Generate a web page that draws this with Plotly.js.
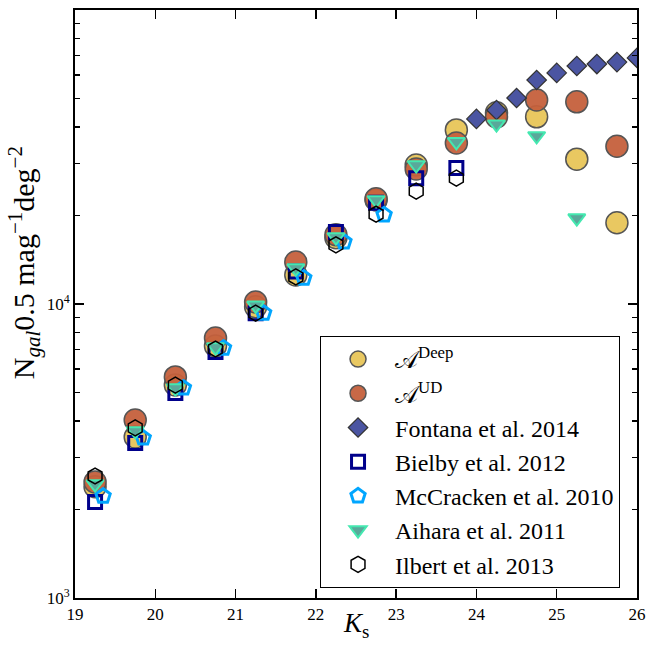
<!DOCTYPE html>
<html><head><meta charset="utf-8">
<script src="https://cdn.plot.ly/plotly-3.0.1.min.js"></script>
<style>html,body{margin:0;padding:0;background:#fff}</style>
</head><body><div id="chart" style="width:647px;height:648px"></div>
<script>
const magHalf = [19.25,19.75,20.25,20.75,21.25,21.75,22.25,22.75,23.25,23.75,24.25,24.75,25.25,25.75];
const deepCounts = [2390,3530,5300,7200,9780,12560,16800,22600,29700,39100,44700,43300,31100,18900];
const udCounts = [2480,4030,5650,7660,10160,13900,17200,22800,28800,35300,43300,49400,48700,34400];
const fontanaMag = [24.0,24.25,24.5,24.75,25.0,25.25,25.5,25.75,26.0];
const fontanaCounts = [42600,45700,50200,57800,61100,64500,65500,66500,68700];
const bielbyMag = [19.25,19.75,20.25,20.75,21.25,21.75,22.25,22.75,23.25,23.75];
const bielbyCounts = [2120,3370,4980,6870,9300,12900,17580,22100,26800,29000];
const mccrackenMag = [19.35,19.85,20.35,20.85,21.35,21.85,22.35,22.85];
const mccrackenCounts = [2220,3500,5180,7080,9310,12250,16260,20100];
const aiharaMag = [19.25,19.75,20.25,20.75,21.25,21.75,22.25,22.75,23.25,23.75,24.25,24.75,25.25];
const aiharaCounts = [2440,3700,5180,7140,9900,13250,16900,22600,29700,35600,40900,37300,19600];
const ilbertMag = [19.25,19.75,20.25,20.75,21.25,21.75,22.25,22.75,23.25,23.75];
const ilbertCounts = [2600,3790,5300,7030,9310,12360,15900,20200,24200,26800];
const xTicks = [19,20,21,22,23,24,25,26];
const yTicks = [1000,10000,100000];
const yTickText = ['10<sup>3</sup>','10<sup>4</sup>','10<sup>5</sup>'];
const names = ['𝒜<sup>Deep</sup>','𝒜<sup>UD</sup>','Fontana et al. 2014','Bielby et al. 2012','McCracken et al. 2010','Aihara et al. 2011','Ilbert et al. 2013'];

const minorVals = [];
[1000,10000].forEach(d=>{for(let k=2;k<=9;k++) minorVals.push(d*k);});

function tr(x,y,name,marker,g){
  return {x:x,y:y,name:name,type:'scatter',mode:'markers',marker:marker,legendgroup:g};
}
const data = [
  tr(magHalf,deepCounts,names[0],{symbol:'circle',size:22,color:'rgba(232,197,88,0.95)',line:{color:'#555555',width:1.5}},'a'),
  tr(magHalf,udCounts,names[1],{symbol:'circle',size:22,color:'rgba(197,96,60,0.95)',line:{color:'#555555',width:1.5}},'b'),
  tr(fontanaMag,fontanaCounts,names[2],{symbol:'diamond',size:15,color:'#4b55a2',line:{color:'#333333',width:1.2}},'c'),
  tr(bielbyMag,bielbyCounts,names[3],{symbol:'square-open',size:13,color:'#00008b',line:{color:'#00008b',width:3}},'d'),
  tr(mccrackenMag,mccrackenCounts,names[4],{symbol:'pentagon-open',size:15,color:'#00a6ff',line:{color:'#00a6ff',width:3}},'e'),
  tr(aiharaMag,aiharaCounts,names[5],{symbol:'triangle-down',size:15,color:'#5aa89a',line:{color:'#44e8b0',width:2}},'f'),
  tr(ilbertMag,ilbertCounts,names[6],{symbol:'hexagon-open',size:16,color:'#000000',line:{color:'#000000',width:1.5}},'g'),
  {x:[19],y:[1000],yaxis:'y2',type:'scatter',mode:'markers',marker:{opacity:0,size:1},showlegend:false,hoverinfo:'skip'}
];
const serif = '"Liberation Serif", "DejaVu Serif", serif';
const layout = {
  width:647,height:648,
  margin:{l:75,r:10,t:10,b:50},
  paper_bgcolor:'#fff',plot_bgcolor:'#fff',
  font:{family:serif,color:'#000'},
  showlegend:true,
  xaxis:{range:[19,26],tickvals:xTicks,ticktext:xTicks.map(String),ticks:'inside',ticklen:9,tickwidth:1.5,tickcolor:'#000',
    showline:true,linewidth:2,linecolor:'#000',mirror:'ticks',showgrid:false,zeroline:false,
    tickfont:{size:17,family:serif}},
  yaxis:{type:'log',range:[3,5],tickmode:'array',tickvals:yTicks,ticktext:yTickText,ticks:'inside',ticklen:9,tickwidth:1.5,tickcolor:'#000',
    showline:true,linewidth:2,linecolor:'#000',mirror:'ticks',showgrid:false,zeroline:false,
    tickfont:{size:17,family:serif}},
  yaxis2:{type:'log',range:[3,5],overlaying:'y',anchor:'x',side:'left',tickmode:'array',tickvals:minorVals,showticklabels:false,
    ticks:'inside',ticklen:5,tickwidth:1.5,tickcolor:'#000',showline:false,mirror:'ticks',showgrid:false,zeroline:false},
  legend:{x:0.436,y:0.017,xanchor:'left',yanchor:'bottom',bgcolor:'#fff',bordercolor:'#000',borderwidth:1,
    font:{size:24,family:serif},tracegroupgap:0,itemwidth:64},
  annotations:[
    {text:'N<sub><i>gal</i></sub>0.5 mag<sup>−1</sup>deg<sup>−2</sup>',textangle:-90,xref:'paper',yref:'paper',
      x:-0.09,y:0.57,xanchor:'center',yanchor:'middle',showarrow:false,font:{size:30,family:serif}},
    {text:'<i>K</i><sub>s</sub>',xref:'paper',yref:'paper',x:0.5,y:-0.046,xanchor:'center',yanchor:'middle',
      showarrow:false,font:{size:27,family:serif}}
  ]
};
Plotly.newPlot('chart',data,layout,{displayModeBar:false,staticPlot:true});
</script></body></html>
